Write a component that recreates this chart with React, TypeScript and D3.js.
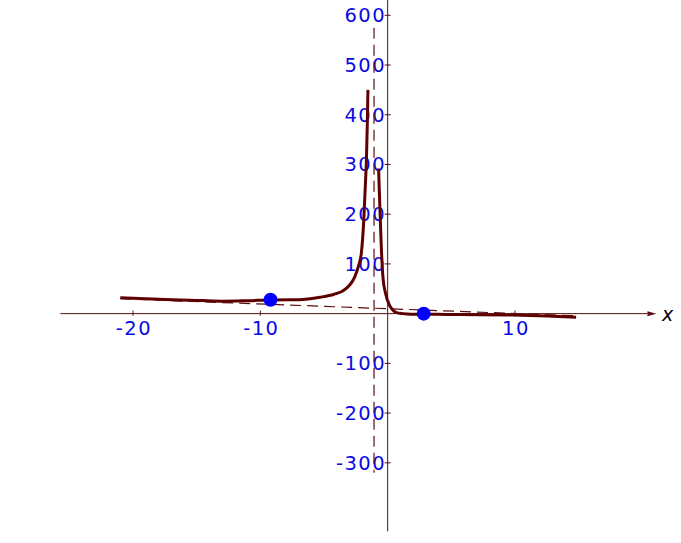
import { useEffect, useRef } from "react";
import * as d3 from "d3";

// left branch of the curve (x -> y)
const leftX = [-21, -18, -15.5, -13, -11, -9.2, -7, -5.3, -4.2, -3.5, -3, -2.6, -2.3, -2.07, -1.88, -1.75, -1.67, -1.6, -1.55];
const leftY = [32, 29, 27, 25, 26, 27.5, 28, 33, 39, 46, 57, 73, 95, 121, 187, 260, 308, 380, 450];

// right branch
const rightX = [-0.71, -0.66, -0.6, -0.5, -0.37, -0.16, 0.16, 0.45, 0.7, 1.2, 1.8, 2.83, 4.6, 7, 9.8, 12.5, 14.8];
const rightY = [292, 250, 205, 134, 73, 40, 16, 6, 2, 0, -1, -1, -1.5, -2, -3, -5, -7.5];

// marked points
const pointsX = [-9.2, 2.83];
const pointsY = [28, 0];

// asymptotes
const vertAsymX = -1.07;
const vertAsymY = [575, -320];
const obliqueX = [-21, 15];
const obliqueY = [30, -4.5];

const xTicks = [-20, -10, 10];
const yTicks = [600, 500, 400, 300, 200, 100, -100, -200, -300];

const W = 681;
const H = 543;

export default function App() {
  const svgRef = useRef(null);

  useEffect(() => {
    const svg = d3.select(svgRef.current);
    svg.selectAll("*").remove();

    const axisColor = "#5a0e0e";
    const curveColor = "#5e0000";
    const labelColor = "#0a0ae6";
    const font = "DejaVu Sans, sans-serif";

    const x = d3.scaleLinear().domain([-20, 10]).range([133, 515]);
    const y = d3.scaleLinear().domain([-300, 600]).range([462.8, 15.3]);

    // axes
    svg
      .append("line")
      .attr("x1", x(-25.7))
      .attr("x2", x(20.4))
      .attr("y1", y(0))
      .attr("y2", y(0))
      .attr("stroke", axisColor)
      .attr("stroke-width", 1);
    svg
      .append("path")
      .attr(
        "d",
        `M${x(20.4)},${y(0) - 2.5}L${x(21.1)},${y(0)}L${x(20.4)},${y(0) + 2.5}Z`
      )
      .attr("fill", axisColor);
    svg
      .append("text")
      .attr("x", 662)
      .attr("y", y(0) + 7.5)
      .attr("font-family", font)
      .attr("font-style", "italic")
      .attr("font-size", 19)
      .attr("fill", "#000")
      .text("x");

    svg
      .append("line")
      .attr("x1", x(0))
      .attr("x2", x(0))
      .attr("y1", y(631))
      .attr("y2", y(-438))
      .attr("stroke", axisColor)
      .attr("stroke-width", 1);

    // x ticks
    svg
      .selectAll(".xt")
      .data(xTicks)
      .join("line")
      .attr("x1", (d) => x(d))
      .attr("x2", (d) => x(d))
      .attr("y1", y(0) - 3)
      .attr("y2", y(0) + 2)
      .attr("stroke", axisColor);
    svg
      .selectAll(".xl")
      .data(xTicks)
      .join("text")
      .attr("x", (d) => x(d) + 1)
      .attr("y", y(0) + 21.5)
      .attr("text-anchor", "middle")
      .attr("font-family", font)
      .attr("font-size", 19.5)
      .attr("letter-spacing", 1.5)
      .attr("fill", labelColor)
      .text((d) => d);

    // y ticks
    svg
      .selectAll(".yt")
      .data(yTicks)
      .join("line")
      .attr("x1", x(0) - 3)
      .attr("x2", x(0) + 3)
      .attr("y1", (d) => y(d))
      .attr("y2", (d) => y(d))
      .attr("stroke", axisColor);
    svg
      .selectAll(".yl")
      .data(yTicks)
      .join("text")
      .attr("x", x(0) - 1.5)
      .attr("y", (d) => y(d) + 7)
      .attr("text-anchor", "end")
      .attr("font-family", font)
      .attr("font-size", 19.5)
      .attr("letter-spacing", 1.5)
      .attr("fill", labelColor)
      .text((d) => d);

    // asymptotes
    svg
      .append("line")
      .attr("x1", x(vertAsymX))
      .attr("x2", x(vertAsymX))
      .attr("y1", y(vertAsymY[0]))
      .attr("y2", y(vertAsymY[1]))
      .attr("stroke", axisColor)
      .attr("stroke-width", 1.2)
      .attr("stroke-dasharray", "11,6");
    svg
      .append("line")
      .attr("x1", x(obliqueX[0]))
      .attr("x2", x(obliqueX[1]))
      .attr("y1", y(obliqueY[0]))
      .attr("y2", y(obliqueY[1]))
      .attr("stroke", axisColor)
      .attr("stroke-width", 1.2)
      .attr("stroke-dasharray", "11,6");

    // curve
    const line = d3
      .line<[number, number]>()
      .x((d) => x(d[0]))
      .y((d) => y(d[1]))
      .curve(d3.curveMonotoneX);

    const branches = [
      leftX.map((v, i) => [v, leftY[i]] as [number, number]),
      rightX.map((v, i) => [v, rightY[i]] as [number, number]),
    ];
    svg
      .selectAll(".branch")
      .data(branches)
      .join("path")
      .attr("d", (d) => line(d))
      .attr("fill", "none")
      .attr("stroke", curveColor)
      .attr("stroke-width", 3)
      .attr("stroke-linejoin", "round");

    // points
    svg
      .selectAll(".pt")
      .data(pointsX)
      .join("circle")
      .attr("cx", (d) => x(d))
      .attr("cy", (d, i) => y(pointsY[i]))
      .attr("r", 7)
      .attr("fill", "#0000ff");
  }, []);

  return (
    <svg
      ref={svgRef}
      width={W}
      height={H}
      style={{ position: "absolute", left: 0, top: 0, background: "#fff" }}
    ></svg>
  );
}
